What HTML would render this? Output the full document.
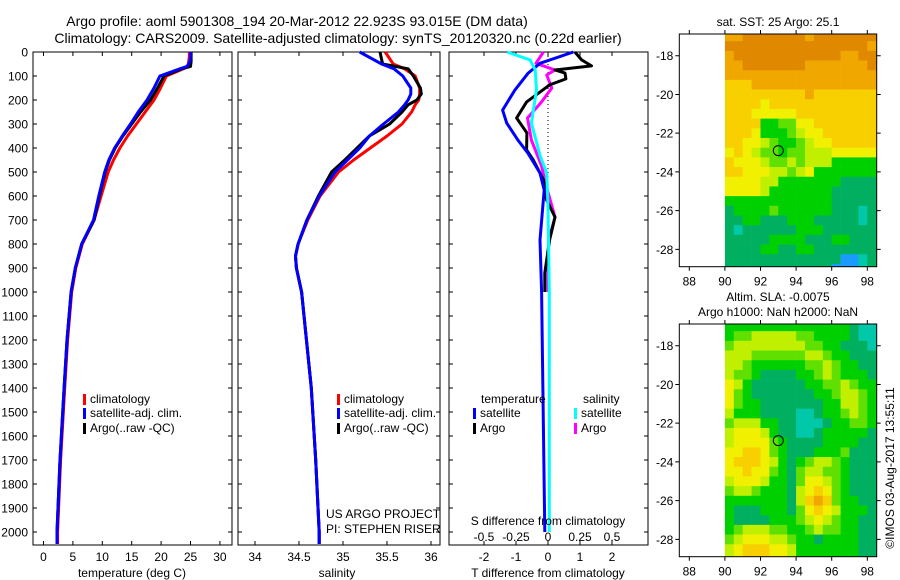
<!DOCTYPE html>
<html><head><meta charset="utf-8"><style>
html,body{margin:0;padding:0;background:#fff}
svg{display:block;font-family:"Liberation Sans",sans-serif}
</style></head><body>
<svg id="fig" width="900" height="580" viewBox="0 0 900 580">
<text x="297" y="26" font-size="14" text-anchor="middle">Argo profile: aoml 5901308_194 20-Mar-2012 22.923S 93.015E (DM data)</text>
<text x="338" y="43" font-size="14" text-anchor="middle">Climatology: CARS2009. Satellite-adjusted climatology: synTS_20120320.nc (0.22d earlier)</text>
<g id="g"></g>
</svg>
<script>
// ---- profile data ----
const tDepth = [0,20,40,60,70,100,150,200,250,300,350,400,450,500,600,700,800,900,1000,1200,1400,1700,2000,2050];
const tArgo  = [25.1,25.1,25.1,25.0,23.5,20.5,19.4,18.2,16.5,15.0,13.5,12.2,11.2,10.5,9.5,8.6,6.5,5.4,4.7,4.0,3.5,2.8,2.3,2.3];
const tClim  = [24.8,24.8,24.7,24.6,23.8,20.9,19.9,18.8,17.3,15.8,14.3,13.0,11.9,11.0,9.8,8.6,6.6,5.5,4.8,4.1,3.6,2.9,2.4,2.4];
const tSat   = [25.0,25.0,24.9,24.4,23.2,19.8,18.8,17.6,16.1,14.8,13.4,12.1,11.1,10.4,9.4,8.5,6.5,5.4,4.7,4.0,3.5,2.8,2.3,2.3];
const sDepth = [0,50,70,100,150,175,200,220,250,300,350,400,450,500,600,700,800,850,900,1000,1400,1700,2000,2050];
const sArgo  = [35.42,35.45,35.74,35.80,35.88,35.89,35.84,35.74,35.67,35.53,35.30,35.16,35.02,34.87,34.72,34.59,34.49,34.46,34.47,34.53,34.64,34.69,34.73,34.73];
const sClim  = [35.48,35.57,35.70,35.82,35.87,35.87,35.86,35.82,35.78,35.67,35.50,35.31,35.12,34.95,34.74,34.60,34.49,34.46,34.47,34.53,34.64,34.69,34.73,34.73];
const sSat   = [35.19,35.44,35.58,35.68,35.77,35.77,35.74,35.70,35.63,35.46,35.30,35.19,35.05,34.91,34.73,34.59,34.49,34.46,34.47,34.53,34.64,34.69,34.73,34.73];
const dTDepthSat = [0,47,88,158,242,296,367,421,504,575,783,1000,1500,2000];
const dTSat      = [0.79,-0.25,-0.62,-1.03,-1.42,-1.29,-0.94,-0.63,-0.25,-0.12,-0.25,-0.2,-0.15,-0.1];
const dTDepthArgo = [0,33,58,75,88,112,137,208,275,337,408,450,533,617,688,783,921,1000];
const dTArgo      = [0.84,1.05,1.36,0.22,0.53,0.56,0.05,-0.67,-0.98,-0.66,-0.67,-0.46,-0.14,-0.04,0.22,0.05,-0.1,-0.1];
const dSDepthArgo = [0,47,75,96,150,208,275,367,475,546,688,783,900,1000];
const dSArgo      = [-0.036,-0.094,0.055,-0.01,0.03,-0.05,-0.16,-0.13,-0.05,-0.02,0.055,0.005,0.0,0.0];
const dSDepthSat = [0,33,75,158,296,435,504,646,1000,1500,2000];
const dSSat      = [-0.32,-0.14,-0.10,-0.09,-0.13,-0.06,-0.01,0.0,0.01,0.01,0.01];
const depthTicks = [0,100,200,300,400,500,600,700,800,900,1000,1100,1200,1300,1400,1500,1600,1700,1800,1900,2000];
const tTicks = [0,5,10,15,20,25,30];
const sTicks = [34,34.5,35,35.5,36];
const dTTicks = [-2,-1,0,1,2];
const dSTicks = [-0.5,-0.25,0,0.25,0.5];
const dSTickLabels = ['-0.5','-0.25','0','0.25','0.5'];
// ---- map data (rows lat -17..-29 step 0.5, cols lon 90..98 step 0.5; palette level) ----
const sstRows = ["88999999989999999","99999999999999998","89999999999998899","88999999988888889","88888888888888888","77788888888888888","77777777787777777","77776777777777777","77766666777777777","77773344667777777","77763334566777777","77665433456677777","67654434455566666","76665445455533333","77666554563333333","66665533333332222","66665333333322222","33333333333322222","23333433333322212","22332223332222212","21222222333222222","22222333322233222","22223322332222222","22222222222220012","22222222222200012"];
const slaRows = ["33333333333333211","34455555443333211","45555555544332221","55544444455433222","55433333344543322","54432222334543332","65322222233445433","64322222223345543","64332222222335543","53332222112334543","45553322111233443","56665322112333332","56666432222333322","66776432223334222","67776532345543222","66766432455443222","56665332466543222","45543332567643222","33333332578743322","32223332467653332","32222333456543322","34555443345443322","45666554332333322","56777665333333322","56777665333333322"];
const palette = ["#1a9cff","#00c8a8","#00b060","#00d000","#60e000","#c0f000","#f0f000","#f8d000","#f0a800","#e08800"];
const latTicks = [-18,-20,-22,-24,-26,-28];
const lonTicks = [88,90,92,94,96,98];
const argoLon = 93.0, argoLat = -22.9;

const NS="http://www.w3.org/2000/svg";
const G=document.getElementById('g');
function mk(tag,attrs,parent){const e=document.createElementNS(NS,tag);for(const k in attrs)e.setAttribute(k,attrs[k]);(parent||G).appendChild(e);return e;}
const Y0=52, PX_PER_M=0.24, YB=545;
const yD=d=>Y0+d*PX_PER_M;
const panels=[
 {x0:33,x1:232,f:v=>43.5+v*5.88,name:'temperature-panel'},
 {x0:238,x1:440,f:v=>255+(v-34)*88,name:'salinity-panel'},
 {x0:449,x1:648,f:v=>548+v*32,name:'difference-panel'}];
panels.forEach(p=>{
 const r=mk('rect',{x:p.x0,y:Y0,width:p.x1-p.x0,height:YB-Y0,fill:'none',stroke:'#000','stroke-width':1});
 
 
 depthTicks.forEach(d=>{
  const t=mk('path',{d:`M${p.x0} ${yD(d)}h4M${p.x1} ${yD(d)}h-4`,stroke:'#000'});
  
  
 });
});
depthTicks.forEach(d=>{
 const t=mk('text',{x:28,y:yD(d)+4.5,'font-size':12,'text-anchor':'end'});t.textContent=d;
 
 
});
function xTicks(p,vals,labels,ly){
 vals.forEach((v,i)=>{const x=p.f(v);
  const t=mk('path',{d:`M${x} ${YB}v-4M${x} ${Y0}v4`,stroke:'#000'});
  
  
  const l=mk('text',{x:x,y:ly,'font-size':12,'text-anchor':'middle'});l.textContent=labels?labels[i]:v;
  
  
 });
}
xTicks(panels[0],tTicks,null,561);
xTicks(panels[1],sTicks,null,561);
xTicks(panels[2],dTTicks,null,561);
const pS={f:v=>548+v*128};
dSTicks.forEach((v,i)=>{const l=mk('text',{x:pS.f(v),y:541,'font-size':12,'text-anchor':'middle'});l.textContent=dSTickLabels[i];
 
 });
function line(f,ds,vs,color,name){
 const d=ds.map((dd,i)=>(i?'L':'M')+f(vs[i]).toFixed(1)+' '+yD(dd).toFixed(1)).join('');
 const e=mk('path',{d:d,fill:'none',stroke:color,'stroke-width':3,'stroke-linejoin':'round'});
 
 
}
const fT=panels[0].f,fS=panels[1].f,fdT=panels[2].f,fdS=pS.f;
line(fT,tDepth,tClim,'#f00','temp-climatology-line');
line(fT,tDepth,tArgo,'#000','temp-argo-line');
line(fT,tDepth,tSat,'#00f','temp-satellite-line');
line(fS,sDepth,sClim,'#f00','sal-climatology-line');
line(fS,sDepth,sArgo,'#000','sal-argo-line');
line(fS,sDepth,sSat,'#00f','sal-satellite-line');
const z=mk('path',{d:`M548 ${Y0}V${yD(1000)}`,stroke:'#000','stroke-dasharray':'1 3'});


line(fdS,dSDepthArgo,dSArgo,'#f0f','s-diff-argo-line');
line(fdT,dTDepthArgo,dTArgo,'#000','t-diff-argo-line');
line(fdT,dTDepthSat,dTSat,'#00f','t-diff-satellite-line');
line(fdS,dSDepthSat,dSSat,'#0ff','s-diff-satellite-line');
function txt(x,y,s,name,anchor,size){const t=mk('text',{x:x,y:y,'font-size':size||12,'text-anchor':anchor||'start'});t.textContent=s;
 
 return t;}
function leg(x,y,color,label,name){const r=mk('rect',{x:x,y:y-9,width:3,height:11,fill:color});
 
 
 txt(x+7,y,label,name+'-label');}
[[83,'t-legend'],[337,'s-legend']].forEach(([x,n])=>{
 leg(x,403,'#f00','climatology',n+'-climatology');
 leg(x,417,'#00f','satellite-adj. clim.',n+'-satellite');
 leg(x,432,'#000','Argo(..raw -QC)',n+'-argo');
});
txt(481,403,'temperature','diff-legend-temperature-header');
txt(583,403,'salinity','diff-legend-salinity-header');
leg(473,417,'#00f','satellite','diff-legend-t-satellite');
leg(473,432,'#000','Argo','diff-legend-t-argo');
leg(574,417,'#0ff','satellite','diff-legend-s-satellite');
leg(574,432,'#f0f','Argo','diff-legend-s-argo');
txt(326,518,'US ARGO PROJECT','project-label');
txt(326,533,'PI: STEPHEN RISER','pi-label');
txt(548,525,'S difference from climatology','s-diff-axis-title','middle');
txt(132,577,'temperature (deg C)','temperature-axis-title','middle');
txt(337,577,'salinity','salinity-axis-title','middle');
txt(548,577,'T difference from climatology','t-diff-axis-title','middle');
// ---- maps ----
function map(top,rows,name){
 const L=679.3,R=876.7,B=top+232.7;
 const fx=lon=>689.3+(lon-88)*17.8, fy=lat=>top+21.7+(-18-lat)*19.37;
 rows.forEach((row,ri)=>{
  const lat=-17-ri*0.5;
  for(let ci=0;ci<row.length;ci++){
   const lon=90+ci*0.5;
   const x=fx(lon),y=fy(lat+0.25);
   const w=Math.min(fx(lon+0.5),R)-x, h=Math.min(fy(lat-0.25),B)-Math.max(y,top);
   if(w<=0||h<=0)continue;
   const c=mk('rect',{x:x.toFixed(2),y:Math.max(y,top).toFixed(2),width:(w+0.3).toFixed(2),height:(h+0.3).toFixed(2),fill:palette[+row[ci]]});
   
   
  }
 });
 const fr=mk('rect',{x:L,y:top,width:R-L,height:B-top,fill:'none',stroke:'#000'});
 
 
 latTicks.forEach(v=>{const y=fy(v);
  const t=mk('path',{d:`M${L} ${y}h-4M${R} ${y}h4`,stroke:'#000'});
  
  
  txt(L-6,y+4.5,v,name+'-lat-label','end');});
 lonTicks.forEach(v=>{const x=fx(v);
  const t=mk('path',{d:`M${x} ${B}v4M${x} ${top}v-4`,stroke:'#000'});
  
  
  txt(x,B+19,v,name+'-lon-label','middle');});
 const c=mk('circle',{cx:fx(argoLon),cy:fy(argoLat),r:5,fill:'none',stroke:'#000'});
 
 
}
map(34,sstRows,'sst-map');
map(324,slaRows,'sla-map');
txt(778,26,'sat. SST: 25 Argo: 25.1','sst-map-title','middle');
txt(778,301,'Altim. SLA: -0.0075','sla-map-title','middle');
txt(778,316,'Argo h1000: NaN h2000: NaN','sla-map-subtitle','middle');
const st=txt(0,0,'©IMOS 03-Aug-2017 13:55:11','timestamp-label','middle');
st.setAttribute('transform','translate(894,468) rotate(-90)');
</script>
</body></html>
